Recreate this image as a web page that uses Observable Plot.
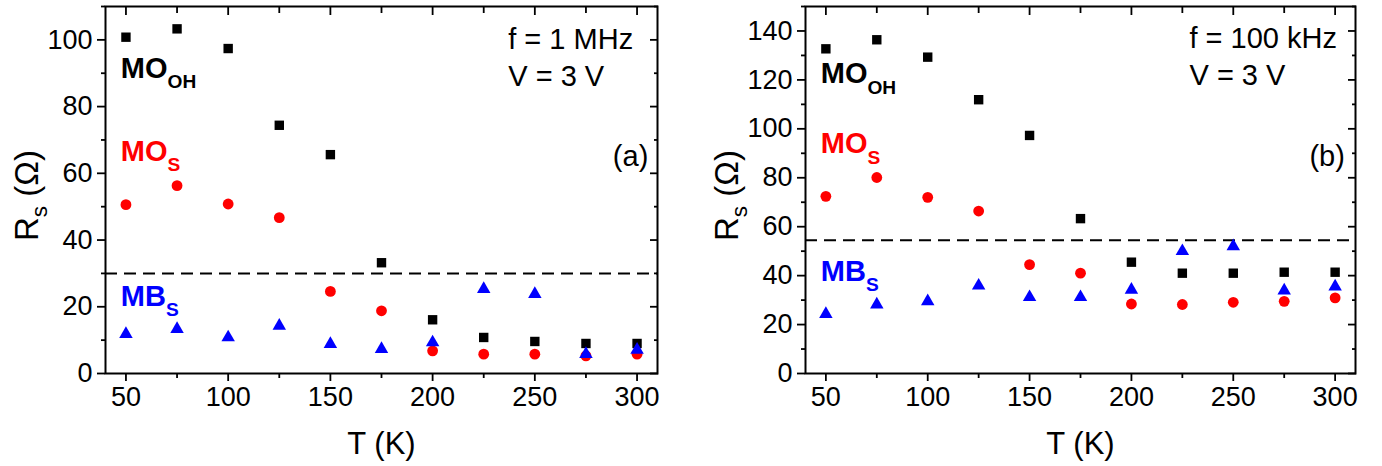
<!DOCTYPE html>
<html><head><meta charset="utf-8">
<script src="https://cdn.jsdelivr.net/npm/d3@7"></script>
<script src="https://cdn.jsdelivr.net/npm/@observablehq/plot@0.6"></script>
<style>
html,body{margin:0;padding:0;background:#fff;}
#wrap{position:relative;width:1382px;height:466px;overflow:hidden;}
#pa{position:absolute;left:0;top:0;}
#pb{position:absolute;left:690px;top:0;}
</style></head><body>
<div id="wrap"><div id="pa"></div><div id="pb"></div></div>
<script>
// ---- data ----
const temps = [50, 75, 100, 125, 150, 175, 200, 225, 250, 275, 300];
// panel (a): f = 1 MHz
const moohA = [100.8, 103.3, 97.4, 74.4, 65.6, 33.2, 16.1, 10.8, 9.6, 9.0, 9.0];
const mosA  = [50.6, 56.3, 50.8, 46.7, 24.6, 18.8, 6.8, 5.8, 5.8, 5.3, 5.8];
const mbsA  = [11.8, 13.3, 10.8, 14.3, 8.8, 7.3, 9.3, 25.3, 23.8, 5.8, 7.1];
const thresholdA = 30;
// panel (b): f = 100 kHz
const moohB = [132.7, 136.4, 129.3, 111.9, 97.3, 63.3, 45.5, 41.0, 41.0, 41.4, 41.4];
const mosB  = [72.4, 80.1, 72.0, 66.4, 44.5, 41.0, 28.4, 28.2, 29.1, 29.5, 30.9];
const mbsB  = [24.3, 28.2, 29.5, 35.9, 31.2, 31.2, 34.2, 50.0, 52.0, 33.9, 35.5];
const thresholdB = 54.5;
// ticks
const xMajor = [50, 100, 150, 200, 250, 300];
const xMinor = [75, 125, 175, 225, 275];
const yMajorA = [0, 20, 40, 60, 80, 100];
const yMinorA = [10, 30, 50, 70, 90, 110];
const yMajorB = [0, 20, 40, 60, 80, 100, 120, 140];
const yMinorB = [10, 30, 50, 70, 90, 110, 130, 150];
// texts
const seriesNames = ["MO_{OH}", "MO_{S}", "MB_{S}"];
const seriesColors = ["black", "#ff0000", "#0000ff"];
const xTitle = "T (K)";
const yTitle = "R_{s} (Ω)";
const condA = ["f = 1 MHz", "V = 3 V", "(a)"];
const condB = ["f = 100 kHz", "V = 3 V", "(b)"];

const FONT = "'Liberation Sans', Arial, sans-serif";

function rows(vals) { return temps.map((t, i) => ({T: t, R: vals[i]})); }

function panel(opts) {
  const {mooh, mos, mbs, thr, yMajor, yMinor, ymax, cond, ml, mr, width, lab, ann} = opts;
  const blank = () => "";
  return Plot.plot({
    width, height: 466,
    marginLeft: ml, marginRight: mr, marginTop: 6, marginBottom: 93,
    x: {domain: [40, 310]},
    y: {domain: [0, ymax]},
    style: {fontFamily: FONT, color: "black", background: "white", overflow: "visible"},
    marks: [
      Plot.ruleY([thr], {stroke: "black", strokeWidth: 2, strokeDasharray: "12,7"}),
      Plot.dot(rows(mooh), {x: "T", y: "R", symbol: "square", fill: seriesColors[0], r: 5.3}),
      Plot.dot(rows(mos), {x: "T", y: "R", symbol: "circle", fill: seriesColors[1], r: 5.4}),
      Plot.dot(rows(mbs), {x: "T", y: "R", symbol: "triangle", fill: seriesColors[2], r: 5}),
      Plot.frame({stroke: "black", strokeWidth: 2}),
      // bottom/left outward ticks with labels
      Plot.axisX({anchor: "bottom", ticks: xMajor, tickSize: 8, tickPadding: 5, fontSize: 27, strokeWidth: 1.8, label: null}),
      Plot.axisX({anchor: "bottom", ticks: xMinor, tickSize: 5, tickFormat: blank, strokeWidth: 1.8, label: null}),
      Plot.axisY({anchor: "left", ticks: yMajor, tickSize: 8, tickPadding: 5, fontSize: 27, strokeWidth: 1.8, label: null}),
      Plot.axisY({anchor: "left", ticks: yMinor, tickSize: 4, tickFormat: blank, strokeWidth: 1.8, label: null}),
      // top/right inward ticks
      Plot.axisX({anchor: "top", ticks: xMajor, tickSize: 8, dy: 8, tickFormat: blank, strokeWidth: 1.8, label: null}),
      Plot.axisX({anchor: "top", ticks: xMinor, tickSize: 6, dy: 6, tickFormat: blank, strokeWidth: 1.8, label: null}),
      Plot.axisY({anchor: "right", ticks: yMajor, tickSize: 8, dx: -8, tickFormat: blank, strokeWidth: 1.8, label: null}),
      Plot.axisY({anchor: "right", ticks: yMinor, tickSize: 4, dx: -4, tickFormat: blank, strokeWidth: 1.8, label: null}),
      // axis titles
      Plot.text([xTitle], {frameAnchor: "bottom", dy: 80, fontSize: 31, lineAnchor: "bottom", fill: "black"}),
      Plot.text([yTitle], {frameAnchor: "left", rotate: -90, dx: -68, dy: 51, fontSize: 33, lineAnchor: "bottom", fill: "black"}),
      // series labels
      Plot.text([seriesNames[0]], {x: 47.5, y: lab[0], textAnchor: "start", lineAnchor: "bottom", fontSize: 29, fontWeight: "bold", fill: seriesColors[0]}),
      Plot.text([seriesNames[1]], {x: 47.5, y: lab[1], textAnchor: "start", lineAnchor: "bottom", fontSize: 29, fontWeight: "bold", fill: seriesColors[1]}),
      Plot.text([seriesNames[2]], {x: 47.5, y: lab[2], textAnchor: "start", lineAnchor: "bottom", fontSize: 29, fontWeight: "bold", fill: seriesColors[2]}),
      // conditions
      Plot.text([cond[0]], {x: ann[0], y: ann[1], textAnchor: "start", lineAnchor: "bottom", fontSize: 29, fill: "black"}),
      Plot.text([cond[1]], {x: ann[0], y: ann[2], textAnchor: "start", lineAnchor: "bottom", fontSize: 29, fill: "black"}),
      Plot.text([cond[2]], {x: ann[3], y: ann[4], textAnchor: "end", lineAnchor: "bottom", fontSize: 29, fill: "black"})
    ]
  });
}

// convert "A_{b} rest" into text with subscript tspan
function subscripts(svg) {
  const ns = "http://www.w3.org/2000/svg";
  svg.querySelectorAll("text").forEach(t => {
    const s = t.textContent;
    const m = s.match(/^(.*?)_\{(.*?)\}(.*)$/);
    if (!m) return;
    let el = t, fs = null;
    while (el && el !== svg) { const f = el.getAttribute && el.getAttribute("font-size"); if (f) { fs = parseFloat(f); break; } el = el.parentNode; }
    if (!fs) fs = 28;
    const bold = /MO|MB/.test(m[1]);
    const subFs = bold ? fs * 0.66 : fs * 0.68;
    const shift = bold ? fs * 0.36 : fs * 0.3;
    t.textContent = m[1];
    const a = document.createElementNS(ns, "tspan");
    a.setAttribute("font-size", subFs);
    a.setAttribute("dy", shift);
    a.textContent = m[2];
    t.appendChild(a);
    if (m[3]) {
      const b = document.createElementNS(ns, "tspan");
      b.setAttribute("font-size", fs);
      b.setAttribute("dy", -shift);
      b.textContent = m[3];
      t.appendChild(b);
    }
  });
}

const svgA = panel({mooh: moohA, mos: mosA, mbs: mbsA, thr: thresholdA, yMajor: yMajorA, yMinor: yMinorA, ymax: 110,
  cond: condA, ml: 105, mr: 33, width: 690, lab: [88.7, 63.8, 20.3], ann: [237, 97.4, 86.3, 305.5, 62.3]});
const svgB = panel({mooh: moohB, mos: mosB, mbs: mbsB, thr: thresholdB, yMajor: yMajorB, yMinor: yMinorB, ymax: 150,
  cond: condB, ml: 115, mr: 27, width: 692, lab: [118.7, 90, 38], ann: [228.5, 133, 118, 304.8, 85]});
subscripts(svgA); subscripts(svgB);
document.getElementById("pa").appendChild(svgA);
document.getElementById("pb").appendChild(svgB);
</script>
</body></html>
